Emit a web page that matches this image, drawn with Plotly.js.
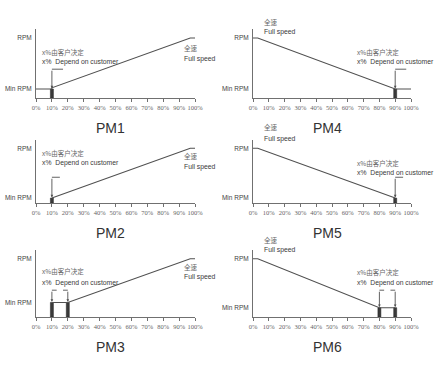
<!DOCTYPE html>
<html><head><meta charset="utf-8">
<script src="https://cdn.plot.ly/plotly-3.0.1.min.js"></script>
<style>body{margin:0;background:#fff}#c{width:441px;height:367px}</style>
</head><body><div id="c"></div>
<script>
// ---- data ----
const panelNames = ['PM1','PM2','PM3','PM4','PM5','PM6'];
const xTickVals = [0,10,20,30,40,50,60,70,80,90,100];
const xTickText = ['0%','10%','20%','30%','40%','50%','60%','70%','80%','90%','100%'];
const yTickText = ['Min RPM','RPM'];
const fullRPM = 100;
const minRPM = [15, 9, 25, 15, 9, 16];
// speed curves (x = % , y = relative RPM)
const pm1X = [0,10,10,97,100],  pm1Y = [15,15,17,100,100];
const pm2X = [10,97,100],       pm2Y = [9,100,100];
const pm3X = [10,20,97,100],    pm3Y = [25,25,100,100];
const pm4X = [0,3,90,100],      pm4Y = [100,100,15,15];
const pm5X = [0,3,90],          pm5Y = [100,100,9];
const pm6X = [0,3,80,90],       pm6Y = [100,100,16,16];
// customer set points (dark bars)
const pm1Set = [10], pm2Set = [10], pm3Set = [10,20];
const pm4Set = [90], pm5Set = [90], pm6Set = [80,90];
// bracket direction for each set point: +1 to the right, -1 to the left
const pm1Dir = [1], pm2Dir = [1], pm3Dir = [1,-1];
const pm4Dir = [1], pm5Dir = [1], pm6Dir = [1,-1];
const labelCN = 'x%由客户决定';
const labelEN = 'x%  Depend on customer';
const fullCN = '全速';
const fullEN = 'Full speed';

// ---- layout helpers ----
const curvesX = [pm1X,pm2X,pm3X,pm4X,pm5X,pm6X];
const curvesY = [pm1Y,pm2Y,pm3Y,pm4Y,pm5Y,pm6Y];
const sets = [pm1Set,pm2Set,pm3Set,pm4Set,pm5Set,pm6Set];
const dirs = [pm1Dir,pm2Dir,pm3Dir,pm4Dir,pm5Dir,pm6Dir];
const W = 441, H = 367;
const colX = [[36,195],[253,411]];
const rowY = [[29,98],[140,203],[250,317]]; // top, bottom (px)
const bracketLen = [7,5,3,7,5,3];
const bracketY = [48,47,46,48,47,46];
const lineC = '#505050', axisC = '#707070';
const px = v => v/W, py = v => 1 - v/H;

const traces = [], annotations = [];
const layout = {width:W, height:H, margin:{l:0,r:0,t:0,b:0}, showlegend:false,
  paper_bgcolor:'#fff', plot_bgcolor:'#fff', annotations, bargap:0};

for (let i=0;i<6;i++){
  const col = i<3?0:1, row = i%3;
  const k = i+1, xa='x'+(k===1?'':k), ya='y'+(k===1?'':k);
  const xn = 'xaxis'+(k===1?'':k), yn='yaxis'+(k===1?'':k);
  layout[xn] = {domain:[px(colX[col][0]), px(colX[col][1])], range:[0,100], anchor:ya,
    showline:true, linecolor:axisC, linewidth:1, ticks:'outside', ticklen:3, tickcolor:axisC,
    tickvals:xTickVals, ticktext:xTickText, tickangle:0,
    tickfont:{family:'Liberation Serif', size:6.5, color:'#666'},
    showgrid:false, zeroline:false, fixedrange:true};
  layout[yn] = {domain:[py(rowY[row][1]), py(rowY[row][0])], range:[0,115], anchor:xa,
    showline:true, linecolor:axisC, linewidth:1, ticks:'', tickvals:[minRPM[i], fullRPM],
    ticktext:yTickText, tickfont:{family:'Liberation Sans', size:6.5, color:'#444'}, ticklabelstandoff:2,
    showgrid:false, zeroline:false, fixedrange:true};
  // curve
  traces.push({type:'scatter', mode:'lines', x:curvesX[i], y:curvesY[i], xaxis:xa, yaxis:ya,
    line:{color:lineC, width:1.1}, hoverinfo:'skip', cliponaxis:false});
  // set-point bars
  traces.push({type:'bar', x:sets[i], y:sets[i].map(()=>minRPM[i]), width:sets[i].map(()=>1.9),
    xaxis:xa, yaxis:ya, marker:{color:'#3a3a3a', line:{color:'#222', width:0.5}}, hoverinfo:'skip'});
  // brackets + arrows
  sets[i].forEach((s,j)=>{
    traces.push({type:'scatter', mode:'lines', x:[s, s+dirs[i][j]*bracketLen[i]], y:[bracketY[i],bracketY[i]],
      xaxis:xa, yaxis:ya, line:{color:lineC, width:0.9}, hoverinfo:'skip', cliponaxis:false});
    annotations.push({xref:xa, yref:ya, axref:xa, ayref:ya, x:s, y:minRPM[i]+1, ax:s, ay:bracketY[i],
      text:'', showarrow:true, arrowhead:2, arrowsize:0.6, arrowwidth:0.9, arrowcolor:lineC});
  });
  // title
  const cx = (colX[col][0]+colX[col][1])/2 - 5;
  annotations.push({xref:'paper', yref:'paper', x:px(cx), y:py(rowY[row][1]+30), text:panelNames[i],
    showarrow:false, font:{family:'Liberation Sans', size:14, color:'#333'}, xanchor:'center', yanchor:'middle'});
}
// text positions in page pixels: [x, yCN, yEN]
const txtPos = [[40,52,62],[40,153,163],[40,271,283],[355,52,62],[355,163,173],[355,272,283]];
const fullPos = [[182,48,59],[182,156,167],[182,267,277],[262,22,32],[262,127,139],[262,240,250]];
const txt = (x,y,t,cn) => annotations.push({xref:'paper', yref:'paper', x:px(x), y:py(y), text:t,
  showarrow:false, xanchor:'left', yanchor:'middle',
  font: cn ? {family:'Noto Sans CJK SC', size:6.5, color:'#666'} : {family:'Liberation Sans', size:6.8, color:'#3a3a3a'}});
for (let i=0;i<6;i++){
  txt(txtPos[i][0], txtPos[i][1], labelCN, true);
  txt(txtPos[i][0], txtPos[i][2], labelEN, false);
  txt(fullPos[i][0], fullPos[i][1], fullCN, true);
  txt(fullPos[i][0], fullPos[i][2], fullEN, false);
}
Plotly.newPlot('c', traces, layout, {staticPlot:true, displayModeBar:false});
</script></body></html>
